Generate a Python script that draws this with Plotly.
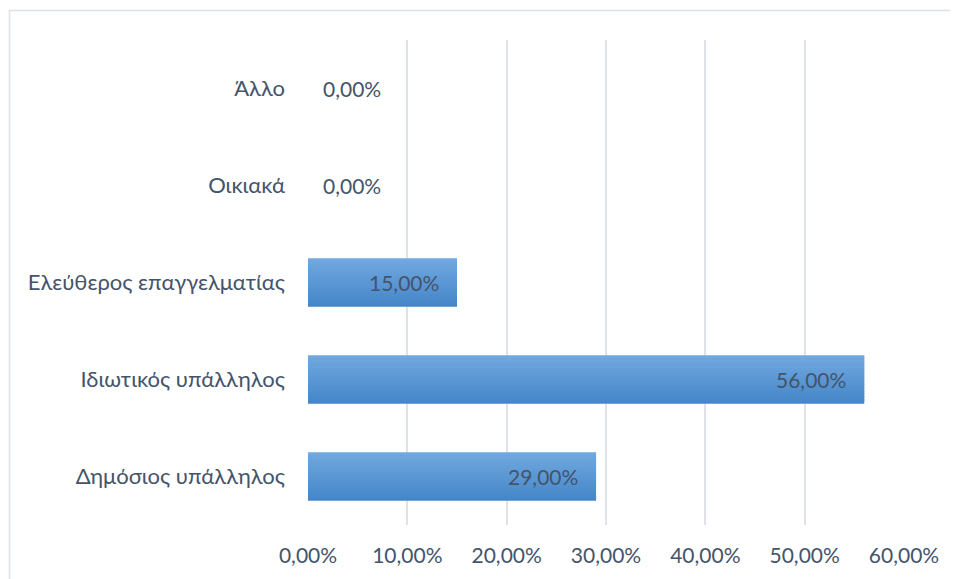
import plotly.graph_objects as go

categories = ["Δημόσιος υπάλληλος", "Ιδιωτικός υπάλληλος", "Ελεύθερος επαγγελματίας", "Οικιακά", "Άλλο"]
values = [0.29, 0.56, 0.15, 0.0, 0.0]
tick_vals = [0, 0.1, 0.2, 0.3, 0.4, 0.5, 0.6]

TEXT = "#44546A"
FONT = "Lato"
FS = 21

# vertical gradient approximation: slices from bottom (dark) to top (light)
dark = (70, 134, 200)
light = (112, 168, 223)
n = 16
bar_w = 0.5
fig = go.Figure()
for i in range(n):
    t = i / (n - 1)
    c = tuple(int(round(dark[k] + (light[k] - dark[k]) * t)) for k in range(3))
    extra = 0.02 if i < n - 1 else 0.0
    fig.add_trace(go.Bar(
        y=categories, x=values, orientation="h",
        width=bar_w / n + extra, offset=-bar_w / 2 + i * bar_w / n,
        marker=dict(color="rgb(%d,%d,%d)" % c, line=dict(width=0)),
        hoverinfo="skip", showlegend=False,
    ))

annotations = []
for cat, v in zip(categories, values):
    label = ("%.2f%%" % (v * 100)).replace(".", ",")
    annotations.append(dict(
        x=v, y=cat, xref="x", yref="y", text=label, showarrow=False,
        xanchor="right" if v > 0 else "left", xshift=-16 if v > 0 else 13,
        font=dict(family=FONT, size=FS, color=TEXT),
    ))

fig.update_layout(
    width=950, height=571,
    margin=dict(l=300, r=54, t=32, b=54),
    paper_bgcolor="white", plot_bgcolor="white",
    barmode="overlay", separators=",.",
    font=dict(family=FONT, size=FS, color=TEXT),
    annotations=annotations,
    shapes=[dict(type="path", xref="paper", yref="paper",
                 path="M -0.5008,-0.3 L -0.5008,1.0608 L 1.3,1.0608",
                 line=dict(color="#DCE0E8", width=1.5), fillcolor="rgba(0,0,0,0)",
                 layer="below")],
    xaxis=dict(range=[0, 0.6], tickvals=tick_vals, tickformat=".2%",
               showgrid=True, gridcolor="#DFE2E8", gridwidth=1.5,
               zeroline=False, showline=False, ticks="",
               ticklabelstandoff=16, fixedrange=True),
    yaxis=dict(categoryorder="array", categoryarray=categories,
               tickfont=dict(family=FONT, size=22, color=TEXT),
               showgrid=False, zeroline=False, showline=False, ticks="",
               ticklabelstandoff=22, fixedrange=True),
)

fig.write_html("out.html")
